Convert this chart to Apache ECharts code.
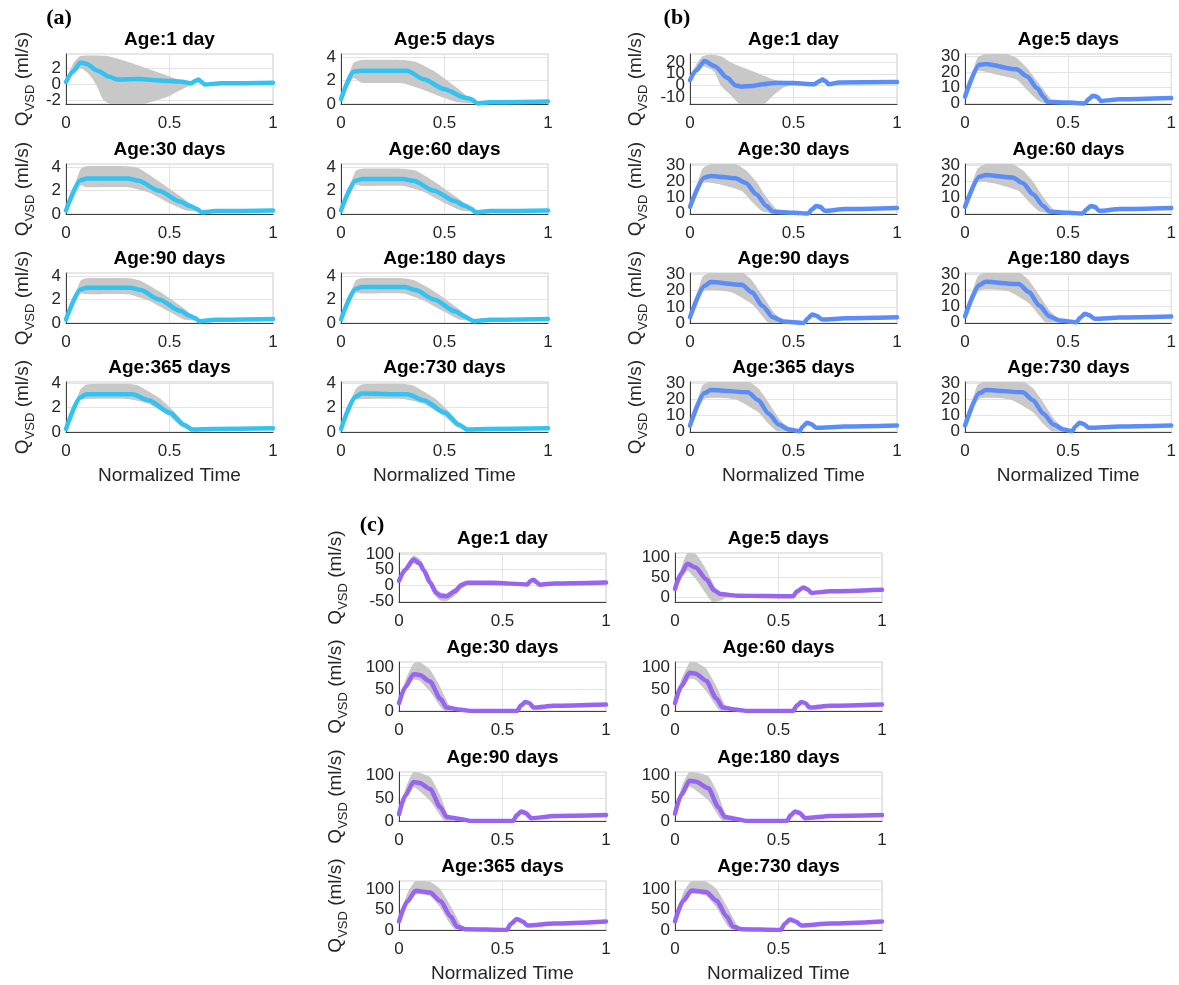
<!DOCTYPE html>
<html>
<head>
<meta charset="utf-8">
<script src="https://cdn.jsdelivr.net/npm/echarts@6/dist/echarts.min.js"></script>
<style>
  html, body { margin: 0; padding: 0; background: #fff; }
  #chart { width: 1179px; height: 985px; }
</style>
</head>
<body>
<div id="chart"></div>
<script>
// Subplot labels (ages) and shared x ticks
const ages = ['1 day', '5 days', '30 days', '60 days', '90 days', '180 days', '365 days', '730 days'];
const xTicks = [0, 0.5, 1];

// ---- Panel (a): mean flow curves and envelope of the sampled curves, [time, ml/s]
const meanA = [
  [[0,0.25],[0.035,1.6],[0.07,2.7],[0.1,2.5],[0.15,1.7],[0.21,0.9],[0.25,0.55],[0.3,0.6],[0.36,0.62],[0.45,0.45],[0.55,0.3],[0.605,0.1],[0.625,0.4],[0.64,0.55],[0.655,0.25],[0.67,-0.05],[0.75,0.08],[1,0.15]],
  [[0,0.4],[0.06,2.75],[0.1,2.83],[0.32,2.83],[0.4,2.1],[0.5,1.26],[0.6,0.54],[0.63,0.4],[0.66,0.05],[0.72,0.15],[1,0.22]],
  [[0,0.3],[0.07,2.9],[0.1,3.05],[0.3,3.05],[0.35,2.85],[0.45,2.0],[0.55,1.08],[0.6,0.68],[0.63,0.46],[0.655,0.15],[0.72,0.25],[1,0.3]],
  [[0,0.3],[0.07,2.85],[0.1,3.0],[0.3,3.0],[0.35,2.85],[0.45,2.0],[0.55,1.1],[0.6,0.7],[0.63,0.45],[0.65,0.15],[0.72,0.25],[1,0.3]],
  [[0,0.3],[0.07,2.85],[0.1,3.0],[0.31,3.0],[0.36,2.8],[0.45,2.0],[0.55,1.05],[0.6,0.6],[0.625,0.4],[0.645,0.15],[0.72,0.28],[1,0.35]],
  [[0,0.3],[0.07,2.9],[0.1,3.05],[0.31,3.05],[0.36,2.8],[0.45,2.0],[0.55,1.0],[0.6,0.55],[0.62,0.35],[0.64,0.15],[0.72,0.28],[1,0.35]],
  [[0,0.25],[0.07,2.85],[0.1,3.1],[0.32,3.1],[0.4,2.6],[0.5,1.6],[0.57,0.6],[0.61,0.2],[0.7,0.25],[1,0.3]],
  [[0,0.25],[0.07,2.9],[0.1,3.15],[0.32,3.1],[0.4,2.6],[0.5,1.6],[0.57,0.6],[0.61,0.2],[0.7,0.25],[1,0.3]]
];
const upperA = [
  [[0,0.3],[0.035,2.6],[0.07,3.5],[0.2,3.5],[0.32,2.6],[0.44,1.5],[0.55,0.5],[0.63,0.1]],
  [[0,0.45],[0.06,3.5],[0.1,3.75],[0.3,3.75],[0.36,3.6],[0.45,2.8],[0.55,1.5],[0.62,0.5],[0.65,0.1]],
  [[0,0.35],[0.07,3.85],[0.1,4.1],[0.3,4.1],[0.35,3.95],[0.45,2.8],[0.55,1.55],[0.6,0.9],[0.64,0.4]],
  [[0,0.35],[0.07,3.7],[0.1,3.9],[0.3,3.9],[0.36,3.75],[0.45,2.8],[0.55,1.55],[0.6,0.9],[0.64,0.4]],
  [[0,0.35],[0.07,3.6],[0.1,3.8],[0.3,3.8],[0.36,3.6],[0.45,2.7],[0.55,1.5],[0.6,0.8],[0.63,0.35]],
  [[0,0.35],[0.07,3.6],[0.1,3.8],[0.3,3.8],[0.36,3.6],[0.45,2.7],[0.55,1.45],[0.6,0.75],[0.63,0.3]],
  [[0,0.3],[0.07,3.5],[0.1,3.9],[0.3,3.95],[0.35,3.8],[0.45,2.8],[0.52,1.7],[0.58,0.6],[0.61,0.25]],
  [[0,0.3],[0.07,3.5],[0.1,3.9],[0.3,3.95],[0.35,3.8],[0.45,2.8],[0.52,1.7],[0.58,0.6],[0.61,0.25]]
];
const lowerA = [
  [[0,0.2],[0.035,1.2],[0.07,2.0],[0.1,1.5],[0.13,0.6],[0.15,-0.3],[0.18,-2.0],[0.22,-2.6],[0.36,-2.6],[0.42,-2.2],[0.49,-1.6],[0.58,-0.4],[0.63,0.1]],
  [[0,0.35],[0.06,2.2],[0.1,1.8],[0.3,1.75],[0.4,1.2],[0.5,0.5],[0.56,0.15],[0.65,0.05]],
  [[0,0.25],[0.07,2.45],[0.1,2.3],[0.3,2.3],[0.4,1.85],[0.5,0.92],[0.58,0.3],[0.64,0.2]],
  [[0,0.25],[0.07,2.5],[0.1,2.4],[0.3,2.4],[0.4,1.9],[0.5,0.95],[0.58,0.3],[0.64,0.2]],
  [[0,0.25],[0.07,2.5],[0.1,2.45],[0.3,2.45],[0.4,1.9],[0.5,0.95],[0.57,0.3],[0.63,0.2]],
  [[0,0.25],[0.07,2.55],[0.1,2.5],[0.3,2.5],[0.4,1.9],[0.5,0.95],[0.57,0.3],[0.63,0.2]],
  [[0,0.2],[0.07,2.6],[0.1,2.7],[0.3,2.7],[0.4,2.3],[0.5,1.3],[0.56,0.4],[0.6,0.2]],
  [[0,0.2],[0.07,2.6],[0.1,2.7],[0.3,2.7],[0.4,2.3],[0.5,1.3],[0.56,0.4],[0.6,0.2]]
];
const yRangeA = [[-2.5,3.75],[0,4.25],[0,4.3],[0,4.3],[0,4.25],[0,4.25],[0,4.1],[0,4.1]];
const yTicksA = [[-2,0,2],[0,2,4],[0,2,4],[0,2,4],[0,2,4],[0,2,4],[0,2,4],[0,2,4]];

// ---- Panel (b)
const meanB = [
  [[0,4.5],[0.03,13],[0.07,21],[0.12,16.5],[0.18,6.5],[0.22,0],[0.25,-1.1],[0.3,-0.5],[0.35,0.9],[0.42,2.3],[0.5,2],[0.6,1],[0.625,3.5],[0.64,5],[0.655,3.5],[0.67,1],[0.72,2.5],[1,2.9]],
  [[0,4],[0.07,24.5],[0.1,25],[0.25,21.6],[0.3,17.2],[0.35,9.5],[0.38,4],[0.4,0.7],[0.5,0.2],[0.58,-0.3],[0.6,2.5],[0.62,4.6],[0.64,4],[0.66,1.3],[0.75,2.3],[1,3.1]],
  [[0,4],[0.07,22.5],[0.1,23.5],[0.22,22],[0.27,19],[0.32,12],[0.37,4.5],[0.4,1],[0.5,0.3],[0.57,-0.2],[0.59,2.5],[0.61,4.5],[0.63,4],[0.65,1.5],[0.75,2.6],[1,3.3]],
  [[0,4],[0.07,23],[0.1,24],[0.23,22.5],[0.28,19],[0.33,12],[0.38,4.5],[0.41,1],[0.5,0.3],[0.57,-0.2],[0.59,2.5],[0.61,4.5],[0.63,4],[0.65,1.5],[0.75,2.6],[1,3.3]],
  [[0,3.6],[0.07,23],[0.1,25.4],[0.25,23.7],[0.3,19],[0.35,10.6],[0.4,3.6],[0.45,1],[0.55,0],[0.57,3],[0.59,5.3],[0.61,4.5],[0.64,2.1],[0.75,3],[1,3.6]],
  [[0,3.6],[0.07,23.5],[0.1,25.5],[0.26,24],[0.31,19],[0.36,10.5],[0.41,3.6],[0.46,1],[0.54,0],[0.56,3],[0.58,5.3],[0.6,4.5],[0.63,2.1],[0.75,3],[1,3.6]],
  [[0,3.5],[0.07,24],[0.1,26],[0.28,24.5],[0.33,19.5],[0.38,11],[0.43,4],[0.48,1],[0.53,0],[0.545,3],[0.565,5.3],[0.585,4.5],[0.61,2.1],[0.75,3],[1,3.6]],
  [[0,3.5],[0.07,24],[0.1,26],[0.28,24.5],[0.33,19.5],[0.38,11],[0.43,4],[0.48,1],[0.52,0],[0.535,3],[0.555,5.3],[0.575,4.5],[0.6,2.1],[0.75,3],[1,3.6]]
];
const upperB = [
  [[0,5],[0.03,18],[0.06,25],[0.1,26.5],[0.15,25],[0.2,19.5],[0.3,12.3],[0.38,6.6],[0.45,2.3],[0.5,1.5]],
  [[0,4.5],[0.06,29],[0.1,31.5],[0.2,31.5],[0.25,29],[0.3,22.7],[0.35,13.9],[0.4,5.1],[0.43,0.5]],
  [[0,4.5],[0.06,28],[0.1,31],[0.22,31],[0.27,27],[0.32,20],[0.37,10],[0.42,2],[0.45,0.3]],
  [[0,4.5],[0.06,28],[0.1,31],[0.23,31],[0.28,27],[0.33,20],[0.38,10],[0.43,2],[0.46,0.3]],
  [[0,4],[0.06,28.5],[0.1,31.5],[0.25,31.5],[0.3,26.4],[0.35,17],[0.4,7.4],[0.45,1],[0.47,0.3]],
  [[0,4],[0.06,28.5],[0.1,31.5],[0.26,31.5],[0.31,26.5],[0.36,17],[0.41,7.4],[0.46,1],[0.48,0.3]],
  [[0,4],[0.06,29],[0.1,31.5],[0.28,31.5],[0.33,27],[0.38,18],[0.43,8],[0.48,1.5],[0.5,0.3]],
  [[0,4],[0.06,29],[0.1,31.5],[0.28,31.5],[0.33,27],[0.38,18],[0.43,8],[0.48,1.5],[0.5,0.3]]
];
const lowerB = [
  [[0,4],[0.03,10],[0.06,16.5],[0.1,14],[0.12,11],[0.15,-0.6],[0.2,-9],[0.24,-16],[0.36,-16],[0.4,-9],[0.45,-2],[0.5,1.5]],
  [[0,3.5],[0.06,20.5],[0.15,18.3],[0.25,15],[0.3,8.4],[0.35,1.8],[0.38,0],[0.43,0]],
  [[0,3.5],[0.06,19],[0.15,18],[0.25,14],[0.3,7],[0.35,1],[0.4,0],[0.45,0]],
  [[0,3.5],[0.06,19.5],[0.15,18.5],[0.26,14],[0.31,7],[0.36,1],[0.41,0],[0.46,0]],
  [[0,3.2],[0.07,20],[0.2,19],[0.3,11.6],[0.35,4.2],[0.38,0],[0.47,0]],
  [[0,3.2],[0.07,20],[0.21,19.5],[0.31,12],[0.36,4.2],[0.39,0],[0.48,0]],
  [[0,3],[0.07,20.5],[0.22,20],[0.33,12],[0.38,4.5],[0.42,0],[0.5,0]],
  [[0,3],[0.07,20.5],[0.22,20],[0.33,12],[0.38,4.5],[0.42,0],[0.5,0]]
];
const yRangeB = [[-16,27],[-0.7,31.5],[-0.5,31],[-0.5,31],[0,31],[-0.5,31],[-0.5,31],[-0.5,31]];
const yTicksB = [[-10,0,10,20],[0,10,20,30],[0,10,20,30],[0,10,20,30],[0,10,20,30],[0,10,20,30],[0,10,20,30],[0,10,20,30]];

// ---- Panel (c)
const meanC = [
  [[0,14],[0.03,50],[0.07,82],[0.1,70],[0.12,48],[0.15,9],[0.18,-24],[0.2,-33],[0.23,-35],[0.27,-19],[0.3,0],[0.33,8],[0.45,8],[0.62,3],[0.635,14],[0.65,18],[0.665,10],[0.68,2],[0.75,6],[1,9]],
  [[0,21],[0.03,60],[0.06,85],[0.1,75],[0.15,46],[0.19,17],[0.22,8],[0.3,4],[0.45,3],[0.57,2.5],[0.59,15],[0.62,25],[0.64,20],[0.66,11],[0.75,15],[1,19]],
  [[0,18],[0.03,55],[0.07,85],[0.1,83],[0.15,68],[0.2,28],[0.23,8],[0.3,3],[0.35,0],[0.57,0],[0.59,13],[0.61,21],[0.63,18],[0.65,8],[0.75,12],[1,15]],
  [[0,18],[0.03,57],[0.07,88],[0.1,86],[0.15,70],[0.2,29],[0.23,8],[0.3,3],[0.35,0],[0.57,0],[0.59,13],[0.61,21],[0.63,18],[0.65,8],[0.75,12],[1,15]],
  [[0,15],[0.03,55],[0.07,85],[0.1,83],[0.15,70],[0.2,30],[0.23,9],[0.3,4],[0.35,0],[0.55,0],[0.57,13],[0.59,21],[0.61,18],[0.64,6],[0.75,11],[1,13]],
  [[0,16],[0.03,57],[0.07,88],[0.1,86],[0.16,72],[0.21,30],[0.24,9],[0.3,4],[0.35,0],[0.54,0],[0.56,13],[0.58,21],[0.6,18],[0.63,6],[0.75,11],[1,13]],
  [[0,21],[0.04,70],[0.08,96],[0.15,92],[0.2,71],[0.25,33],[0.28,8],[0.32,2],[0.52,0],[0.54,15],[0.57,27],[0.6,20],[0.62,11],[0.75,16],[1,21]],
  [[0,21],[0.04,72],[0.08,97],[0.15,93],[0.2,72],[0.25,33],[0.28,8],[0.32,2],[0.51,0],[0.53,15],[0.555,26],[0.585,20],[0.61,11],[0.75,16],[1,21]]
];
const upperC = [
  [[0,16],[0.03,60],[0.07,95],[0.1,85],[0.12,62],[0.15,25],[0.18,-10],[0.2,-22],[0.23,-25],[0.27,-8],[0.3,10],[0.33,12],[0.35,9]],
  [[0,22],[0.03,75],[0.06,112],[0.1,110],[0.15,71],[0.19,29],[0.22,6],[0.25,3]],
  [[0,20],[0.03,70],[0.07,110],[0.1,113],[0.15,95],[0.2,55],[0.24,15],[0.27,3]],
  [[0,20],[0.03,72],[0.07,112],[0.1,113],[0.15,98],[0.2,57],[0.24,15],[0.27,3]],
  [[0,17],[0.03,70],[0.07,107],[0.15,96],[0.2,55],[0.23,19],[0.26,3]],
  [[0,18],[0.03,72],[0.07,107],[0.16,98],[0.21,57],[0.24,19],[0.27,3]],
  [[0,23],[0.04,90],[0.08,120],[0.15,118],[0.2,100],[0.25,58],[0.3,12],[0.32,2]],
  [[0,23],[0.04,92],[0.08,120],[0.15,119],[0.2,101],[0.25,58],[0.3,12],[0.32,2]]
];
const lowerC = [
  [[0,12],[0.03,40],[0.07,70],[0.1,57],[0.12,35],[0.15,-5],[0.18,-38],[0.2,-48],[0.23,-50],[0.27,-33],[0.3,-12],[0.33,3],[0.35,7]],
  [[0,20],[0.03,45],[0.06,67],[0.1,46],[0.15,8],[0.18,-12],[0.22,-8],[0.25,0]],
  [[0,16],[0.03,45],[0.07,72],[0.1,70],[0.15,45],[0.2,10],[0.22,0],[0.27,0]],
  [[0,16],[0.03,46],[0.07,74],[0.1,72],[0.15,46],[0.2,10],[0.22,0],[0.27,0]],
  [[0,13],[0.03,45],[0.07,74],[0.15,44],[0.2,11],[0.22,0],[0.26,0]],
  [[0,14],[0.03,46],[0.07,75],[0.16,46],[0.21,11],[0.23,0],[0.27,0]],
  [[0,19],[0.04,60],[0.08,87],[0.15,83],[0.2,54],[0.25,12],[0.27,2],[0.32,0]],
  [[0,19],[0.04,62],[0.08,88],[0.15,84],[0.2,55],[0.25,12],[0.27,2],[0.32,0]]
];
const yRangeC = [[-53,103],[-12,112],[0,113],[0,113],[0,107],[0,107],[0,120],[0,120]];
const yTicksC = [[-50,0,50,100],[0,50,100],[0,50,100],[0,50,100],[0,50,100],[0,50,100],[0,50,100],[0,50,100]];

// ---- Layout and styling
const FONT = '"Liberation Sans", Arial, Helvetica, sans-serif';
const TEXT = '#262626';
const PLOT_W = 207;

const panels = [
  { tag: '(a)', mean: meanA, upper: upperA, lower: lowerA, yRange: yRangeA, yTicks: yTicksA,
    color: '#33C3F2', cols: [66, 341], tops: [54, 164, 273, 382], h: 50, nameGap: 29, tagX: 59, tagY: 18 },
  { tag: '(b)', mean: meanB, upper: upperB, lower: lowerB, yRange: yRangeB, yTicks: yTicksB,
    color: '#5B8DF8', cols: [690, 965], tops: [54, 164, 273, 382], h: 50, nameGap: 40, tagX: 677, tagY: 18 },
  { tag: '(c)', mean: meanC, upper: upperC, lower: lowerC, yRange: yRangeC, yTicks: yTicksC,
    color: '#9865F2', cols: [399, 675], tops: [553, 662, 772, 881], h: 49, nameGap: 49, tagX: 372, tagY: 525 }
];

// Gray envelope of the sampled curves: polygon along upper edge, back along lower edge
function makeBand(upper, lower) {
  return function (params, api) {
    const pts = upper.map(d => api.coord(d))
      .concat(lower.slice().reverse().map(d => api.coord(d)));
    const cs = params.coordSys;
    return {
      type: 'polygon',
      shape: { points: pts, smooth: 0.15 },
      style: { fill: '#c8c8c8', stroke: null },
      clipPath: { type: 'rect', shape: { x: cs.x, y: cs.y, width: cs.width, height: cs.height } }
    };
  };
}

const grids = [], xAxes = [], yAxes = [], series = [], graphics = [];

panels.forEach(p => {
  graphics.push({
    type: 'text', x: p.tagX, y: p.tagY, z: 10,
    style: { text: p.tag, font: 'bold 22px "Liberation Serif", "Times New Roman", serif',
             fill: '#000', textAlign: 'center', textVerticalAlign: 'middle' }
  });
  ages.forEach((age, k) => {
    const row = Math.floor(k / 2), col = k % 2;
    const left = p.cols[col], top = p.tops[row];
    const gi = grids.length;
    const [yMin, yMax] = p.yRange[k];
    const ticks = p.yTicks[k];

    grids.push({ left: left, top: top, width: PLOT_W, height: p.h, show: true,
                 borderColor: '#cfcfcf', borderWidth: 1, backgroundColor: '#fff' });

    graphics.push({
      type: 'text', x: left + PLOT_W / 2, y: top - 14, z: 10,
      style: { text: 'Age:' + age, font: 'bold 19px ' + FONT, fill: '#000',
               textAlign: 'center', textVerticalAlign: 'middle' }
    });

    xAxes.push({
      gridIndex: gi, type: 'value', min: 0, max: 1, interval: 0.5,
      axisLine: { onZero: false, lineStyle: { color: '#404040', width: 1 } },
      axisTick: { show: false },
      axisLabel: { fontSize: 17, color: TEXT, fontFamily: FONT, margin: 11,
                   showMinLabel: true, showMaxLabel: true, formatter: v => String(v) },
      splitLine: { show: true, lineStyle: { color: '#e3e3e3', width: 1 } },
      name: row === 3 ? 'Normalized Time' : '',
      nameLocation: 'middle', nameGap: 34,
      nameTextStyle: { fontSize: 19, color: TEXT, fontFamily: FONT }
    });

    // Main y axis: axis line, grid lines at the ticks and the axis title
    const yMain = yAxes.length;
    yAxes.push({
      gridIndex: gi, type: 'value', min: yMin, max: yMax, position: 'left',
      axisLine: { show: true, onZero: false, lineStyle: { color: '#404040', width: 1 } },
      axisTick: { show: false, customValues: ticks },
      axisLabel: { show: false, customValues: ticks },
      splitLine: { show: true, lineStyle: { color: '#e3e3e3', width: 1 } },
      name: col === 0 ? '{q|Q}{s|VSD}{q| (ml/s)}' : '',
      nameLocation: 'middle', nameRotate: 90, nameGap: p.nameGap,
      nameTextStyle: {
        color: TEXT, fontFamily: FONT, fontSize: 19,
        rich: {
          q: { fontSize: 19, fontFamily: FONT, color: TEXT, lineHeight: 28 },
          s: { fontSize: 13, fontFamily: FONT, color: TEXT, lineHeight: 14, verticalAlign: 'bottom' }
        }
      }
    });
    // One label-only axis per tick value: the tick labels sit closer than their
    // font height, and a single-label axis never drops a label as overlapping.
    ticks.forEach(v => {
      yAxes.push({
        gridIndex: gi, type: 'value', min: yMin, max: yMax, position: 'left', offset: 0,
        axisLine: { show: false }, axisTick: { show: false }, splitLine: { show: false },
        axisLabel: { customValues: [v], fontSize: 17, color: TEXT, fontFamily: FONT, margin: 5,
                     showMinLabel: true, showMaxLabel: true }
      });
    });

    series.push({
      type: 'custom', xAxisIndex: gi, yAxisIndex: yMain, data: [[0, 0]], silent: true, z: 1,
      renderItem: makeBand(p.upper[k], p.lower[k])
    });
    series.push({
      type: 'line', xAxisIndex: gi, yAxisIndex: yMain, data: p.mean[k], showSymbol: false,
      smooth: 0.25, smoothMonotone: 'x', silent: true, z: 3, clip: true,
      lineStyle: { color: p.color, width: 4.5, cap: 'round', join: 'round' }
    });
  });
});

const chart = echarts.init(document.getElementById('chart'), null, { renderer: 'canvas' });
chart.setOption({
  backgroundColor: '#ffffff',
  animation: false,
  textStyle: { fontFamily: FONT },
  grid: grids,
  xAxis: xAxes,
  yAxis: yAxes,
  series: series,
  graphic: graphics
});
</script>
</body>
</html>
